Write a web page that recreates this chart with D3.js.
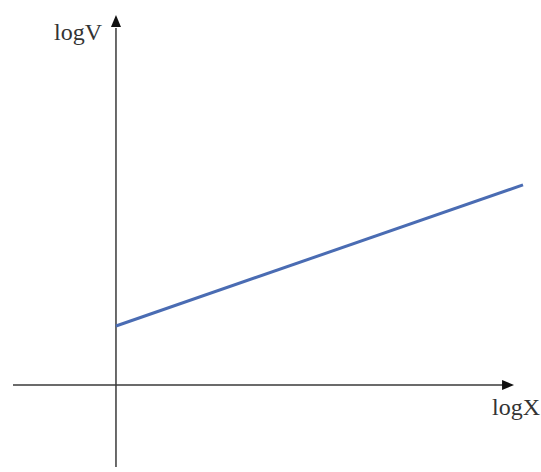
<!DOCTYPE html>
<html>
<head>
<meta charset="utf-8">
<script src="https://cdn.jsdelivr.net/npm/d3@7"></script>
<style>
  html, body { margin: 0; padding: 0; background: #fff; }
  svg { display: block; }
</style>
</head>
<body>
<svg id="chart" width="541" height="472"></svg>
<script>
// Data
const logX = [0, 10];
const logV = [1, 3.39];
const axisLabels = ["logX", "logV"];

const svg = d3.select("#chart");
const x = d3.scaleLinear().domain([-2.53, 10]).range([13, 523]);
const y = d3.scaleLinear().domain([-1.39, 6.27]).range([467, 15]);

const axisColor = "#3a3a3a";

// x axis
svg.append("line")
  .attr("x1", x(-2.53)).attr("x2", x(9.62))
  .attr("y1", y(0)).attr("y2", y(0))
  .attr("stroke", axisColor).attr("stroke-width", 1.5);
const xt = x(9.78), y0 = y(0);
svg.append("path")
  .attr("d", `M${xt},${y0} L${xt - 12},${y0 - 5} L${xt - 12},${y0 + 5} Z`)
  .attr("fill", "#111");

// y axis
const x0 = x(0);
svg.append("line")
  .attr("x1", x0).attr("x2", x0)
  .attr("y1", y(-1.39)).attr("y2", y(6.05))
  .attr("stroke", axisColor).attr("stroke-width", 1.5);
const yt = y(6.27);
svg.append("path")
  .attr("d", `M${x0},${yt} L${x0 - 5},${yt + 12} L${x0 + 5},${yt + 12} Z`)
  .attr("fill", "#111");

// data line
const pts = logX.map((d, i) => [d, logV[i]]);
svg.append("path")
  .datum(pts)
  .attr("d", d3.line().x(d => x(d[0])).y(d => y(d[1])))
  .attr("fill", "none")
  .attr("stroke", "#4a6cb3")
  .attr("stroke-width", 3);

// labels
svg.append("text")
  .attr("x", 54).attr("y", 40)
  .attr("font-family", "Liberation Serif, Times New Roman, serif")
  .attr("font-size", 24)
  .attr("fill", "#333")
  .text(axisLabels[1]);
svg.append("text")
  .attr("x", 492).attr("y", 415)
  .attr("font-family", "Liberation Serif, Times New Roman, serif")
  .attr("font-size", 24)
  .attr("fill", "#333")
  .text(axisLabels[0]);
</script>
</body>
</html>
